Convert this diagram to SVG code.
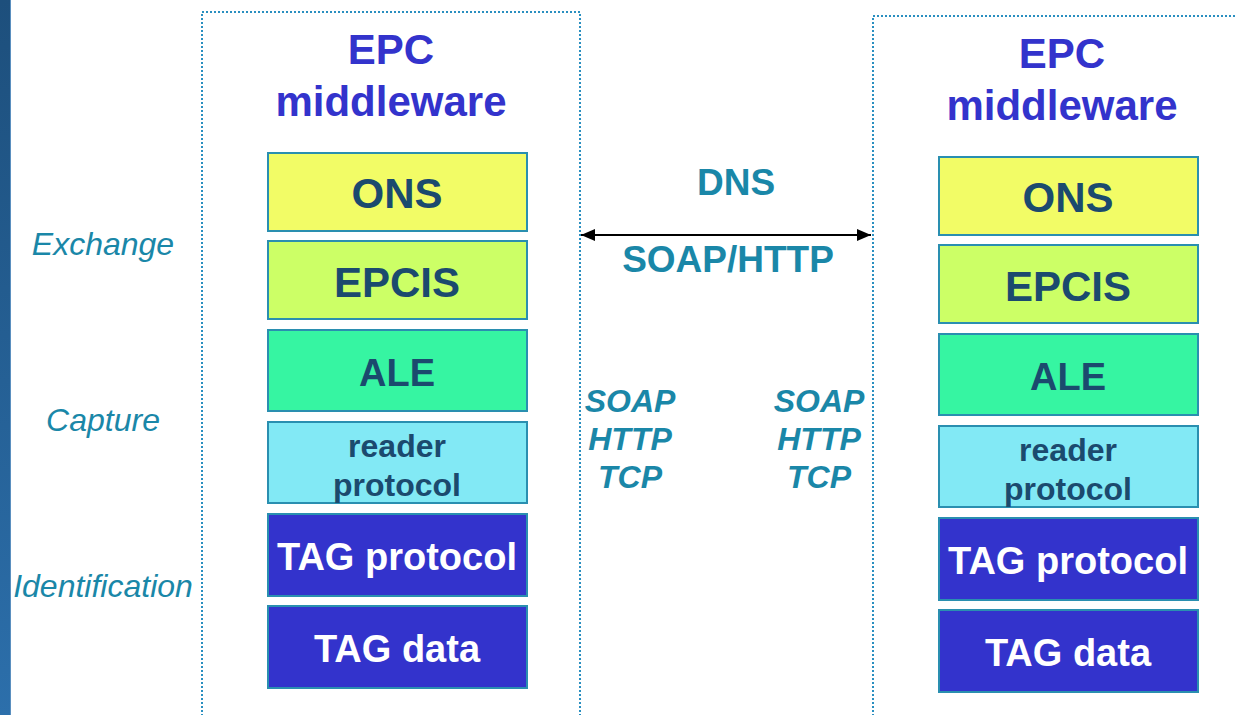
<svg xmlns="http://www.w3.org/2000/svg" width="1236" height="715" viewBox="0 0 1236 715">
<style>
text{font-family:"Liberation Sans",Arial,sans-serif;text-anchor:middle}
.title{font-size:42px;font-weight:bold;fill:#3333cc}
.box{stroke:#2a8fb0;stroke-width:2}
.dark{font-size:42px;font-weight:bold;fill:#1b4a6e}
.ale{font-size:38px;font-weight:bold;fill:#1b4a6e}
.small{font-size:32px;font-weight:bold;fill:#1b4a6e}
.white{font-size:38px;font-weight:bold;fill:#ffffff}
.teal{font-size:37px;font-weight:bold;fill:#1a87a8}
.proto{font-size:32px;font-weight:bold;font-style:italic;fill:#1a87a8}
.layer{font-size:32px;font-style:italic;fill:#1a87a8}
.frame{fill:none;stroke:#2a8fc0;stroke-width:2;stroke-dasharray:2 2}
</style>
<defs>
<linearGradient id="bar" x1="0" y1="0" x2="0" y2="1">
<stop offset="0" stop-color="#1d4f7c"/>
<stop offset="1" stop-color="#2c6fab"/>
</linearGradient>
<marker id="ah" markerWidth="14" markerHeight="12" refX="14" refY="6" orient="auto-start-reverse" markerUnits="userSpaceOnUse">
<path d="M0,0 L14,6 L0,12 Z" fill="#000"/>
</marker>
</defs>
<rect x="0" y="0" width="1236" height="715" fill="#fff"/>
<rect x="0" y="0" width="10" height="715" fill="url(#bar)"/>
<rect x="10" y="0" width="1" height="715" fill="#5a8fbf"/>

<g id="layers">
<text class="layer" x="103" y="255">Exchange</text>
<text class="layer" x="103" y="431">Capture</text>
<text class="layer" x="103" y="597">Identification</text>
</g>

<g id="left-middleware">
<path class="frame" d="M202,716 V12 H580 V716"/>
<text class="title" x="391" y="64">EPC</text>
<text class="title" x="391" y="116">middleware</text>
</g>
<g id="left-ons"><rect class="box" x="268" y="153" width="259" height="78" fill="#f2fc66"/><text class="dark" x="397" y="208">ONS</text></g>
<g id="left-epcis"><rect class="box" x="268" y="241" width="259" height="78" fill="#ccff66"/><text class="dark" x="397" y="297">EPCIS</text></g>
<g id="left-ale"><rect class="box" x="268" y="330" width="259" height="81" fill="#36f5a2"/><text class="ale" x="397" y="386">ALE</text></g>
<g id="left-reader"><rect class="box" x="268" y="422" width="259" height="81" fill="#82e9f5"/><text class="small" x="397" y="457">reader</text><text class="small" x="397" y="496">protocol</text></g>
<g id="left-tagprotocol"><rect class="box" x="268" y="514" width="259" height="82" fill="#3333cc"/><text class="white" x="397" y="570">TAG protocol</text></g>
<g id="left-tagdata"><rect class="box" x="268" y="606" width="259" height="82" fill="#3333cc"/><text class="white" x="397" y="662">TAG data</text></g>

<g id="right-middleware">
<path class="frame" d="M873,716 V16 H1237"/>
<text class="title" x="1062" y="68">EPC</text>
<text class="title" x="1062" y="120">middleware</text>
</g>
<g id="right-ons"><rect class="box" x="939" y="157" width="259" height="78" fill="#f2fc66"/><text class="dark" x="1068" y="212">ONS</text></g>
<g id="right-epcis"><rect class="box" x="939" y="245" width="259" height="78" fill="#ccff66"/><text class="dark" x="1068" y="301">EPCIS</text></g>
<g id="right-ale"><rect class="box" x="939" y="334" width="259" height="81" fill="#36f5a2"/><text class="ale" x="1068" y="390">ALE</text></g>
<g id="right-reader"><rect class="box" x="939" y="426" width="259" height="81" fill="#82e9f5"/><text class="small" x="1068" y="461">reader</text><text class="small" x="1068" y="500">protocol</text></g>
<g id="right-tagprotocol"><rect class="box" x="939" y="518" width="259" height="82" fill="#3333cc"/><text class="white" x="1068" y="574">TAG protocol</text></g>
<g id="right-tagdata"><rect class="box" x="939" y="610" width="259" height="82" fill="#3333cc"/><text class="white" x="1068" y="666">TAG data</text></g>

<g id="connectors">
<line x1="581" y1="235" x2="871" y2="235" stroke="#000" stroke-width="2" marker-start="url(#ah)" marker-end="url(#ah)"/>
<text class="teal" x="736" y="195">DNS</text>
<text class="teal" x="728" y="272">SOAP/HTTP</text>
</g>

<g id="left-stack-labels">
<text class="proto" x="630" y="412">SOAP</text>
<text class="proto" x="630" y="450">HTTP</text>
<text class="proto" x="630" y="488">TCP</text>
</g>
<g id="right-stack-labels">
<text class="proto" x="819" y="412">SOAP</text>
<text class="proto" x="819" y="450">HTTP</text>
<text class="proto" x="819" y="488">TCP</text>
</g>
</svg>
